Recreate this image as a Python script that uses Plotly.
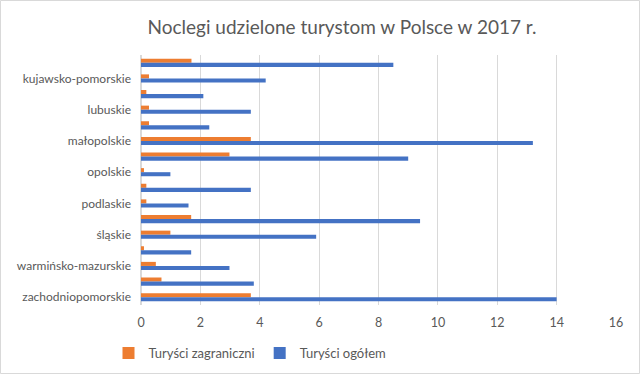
import plotly.graph_objects as go

regions = ["dolnośląskie", "kujawsko-pomorskie", "lubelskie", "lubuskie", "łódzkie",
           "małopolskie", "mazowieckie", "opolskie", "podkarpackie", "podlaskie",
           "pomorskie", "śląskie", "świętokrzyskie", "warmińsko-mazurskie",
           "wielkopolskie", "zachodniopomorskie"]
foreign = [1.7, 0.27, 0.18, 0.27, 0.27, 3.7, 2.98, 0.1, 0.18, 0.18, 1.69, 0.99, 0.1, 0.5, 0.69, 3.7]
total = [8.5, 4.2, 2.1, 3.7, 2.3, 13.2, 9.0, 0.99, 3.7, 1.6, 9.4, 5.9, 1.69, 2.98, 3.8, 14.0]
shown_labels = regions[1::2]
x_ticks = [0, 2, 4, 6, 8, 10, 12, 14, 16]

W, H = 640, 374
ml, mr, mt, mb = 141, 24, 55, 69
pw, ph = W - ml - mr, H - mt - mb

fig = go.Figure()
fig.add_trace(go.Bar(y=regions, x=foreign, orientation="h", name="Turyści zagraniczni",
                     marker=dict(color="#ED7D31", line=dict(width=0))))
fig.add_trace(go.Bar(y=regions, x=total, orientation="h", name="Turyści ogółem",
                     marker=dict(color="#4472C4", line=dict(width=0))))

fig.update_layout(
    width=W, height=H,
    margin=dict(l=ml, r=mr, t=mt, b=mb, autoexpand=False),
    paper_bgcolor="white", plot_bgcolor="white",
    barmode="group", bargap=0.48, bargroupgap=0,
    font=dict(family="Lato, sans-serif", color="#595959", size=12),
    title=dict(text="Noclegi udzielone turystom w Polsce w 2017 r.",
               x=342 / W, xanchor="center", y=1 - 27 / H, yanchor="middle",
               font=dict(size=19, color="#595959")),
    legend=dict(orientation="h", x=(250 - ml) / pw, xanchor="center",
                y=(ph - (353 - mt)) / ph, yanchor="middle",
                font=dict(size=13, color="#595959"), itemwidth=30,
                traceorder="normal"),
    xaxis=dict(range=[0, 16], tickvals=x_ticks, showgrid=True, gridcolor="#D9D9D9",
               gridwidth=1, zeroline=True, zerolinecolor="#D9D9D9", showline=False,
               automargin=False,
               tickfont=dict(size=12.5, color="#595959"), ticklabelstandoff=8, fixedrange=True),
    yaxis=dict(autorange="reversed", type="category", tickmode="array",
               tickvals=shown_labels, ticktext=shown_labels, showgrid=False,
               showline=False, automargin=False,
               tickfont=dict(size=12, color="#595959"),
               ticklabelstandoff=9),
    shapes=[dict(type="rect", xref="paper", yref="paper",
                 x0=(0.5 - ml) / pw, x1=(W - 0.5 - ml) / pw,
                 y0=(-mb + 0.5) / ph, y1=1 + (mt - 0.5) / ph,
                 line=dict(color="#D9D9D9", width=1), fillcolor="rgba(0,0,0,0)",
                 layer="below")],
)

fig.write_html("out.html", config={"displayModeBar": False},
               post_script="document.body.style.margin='0';document.body.style.padding='0';")
